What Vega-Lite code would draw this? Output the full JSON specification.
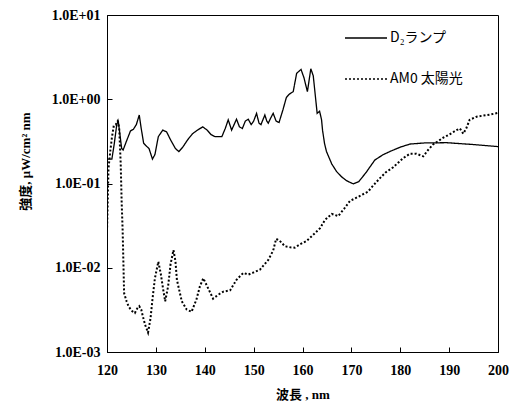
{
  "$schema": "https://vega.github.io/schema/vega-lite/v6.json",
  "width": 391,
  "height": 337,
  "autosize": {"type": "none"},
  "padding": {"left": 107, "top": 15, "right": 13, "bottom": 51},
  "background": "white",
  "config": {
    "view": {"stroke": "#000", "strokeWidth": 1},
    "axis": {"grid": false, "domainColor": "#000", "tickColor": "#000", "labelFont": "Liberation Serif", "labelFontWeight": "bold", "labelFontSize": 14, "labelColor": "#000", "labelFlush": false, "labelOverlap": false, "titleFont": "Liberation Serif, Noto Sans CJK JP", "titleFontWeight": "bold", "titleFontSize": 13, "titleColor": "#000"}
  },
  "datasets": {
    "d2": [
      {"nm":120.0,"v":0.195},{"nm":121.0,"v":0.195},{"nm":121.5,"v":0.30},{"nm":122.0,"v":0.50},{"nm":122.3,"v":0.557},{"nm":122.6,"v":0.40},{"nm":123.0,"v":0.26},{"nm":123.3,"v":0.25},{"nm":124.0,"v":0.32},{"nm":124.8,"v":0.42},{"nm":125.4,"v":0.44},{"nm":126.0,"v":0.50},{"nm":126.6,"v":0.65},{"nm":127.0,"v":0.45},{"nm":127.5,"v":0.30},{"nm":128.0,"v":0.28},{"nm":128.6,"v":0.26},{"nm":129.3,"v":0.195},{"nm":129.8,"v":0.22},{"nm":130.5,"v":0.36},{"nm":131.4,"v":0.43},{"nm":132.2,"v":0.41},{"nm":133.0,"v":0.33},{"nm":134.0,"v":0.26},{"nm":134.7,"v":0.239},{"nm":135.5,"v":0.27},{"nm":136.5,"v":0.33},{"nm":137.5,"v":0.39},{"nm":138.5,"v":0.43},{"nm":139.6,"v":0.47},{"nm":140.5,"v":0.43},{"nm":141.3,"v":0.38},{"nm":142.1,"v":0.36},{"nm":143.5,"v":0.36},{"nm":144.2,"v":0.45},{"nm":144.8,"v":0.57},{"nm":145.5,"v":0.43},{"nm":146.0,"v":0.50},{"nm":146.5,"v":0.58},{"nm":147.1,"v":0.47},{"nm":147.7,"v":0.45},{"nm":148.3,"v":0.55},{"nm":148.9,"v":0.58},{"nm":149.5,"v":0.50},{"nm":150.0,"v":0.55},{"nm":150.6,"v":0.68},{"nm":151.1,"v":0.52},{"nm":151.5,"v":0.50},{"nm":152.3,"v":0.65},{"nm":152.7,"v":0.55},{"nm":153.0,"v":0.52},{"nm":153.5,"v":0.60},{"nm":154.0,"v":0.68},{"nm":154.6,"v":0.55},{"nm":155.2,"v":0.53},{"nm":156.0,"v":0.75},{"nm":156.7,"v":1.05},{"nm":157.3,"v":1.15},{"nm":158.1,"v":1.23},{"nm":158.8,"v":2.03},{"nm":159.7,"v":2.26},{"nm":160.3,"v":1.8},{"nm":161.0,"v":1.23},{"nm":161.3,"v":1.6},{"nm":161.7,"v":2.3},{"nm":162.2,"v":1.9},{"nm":162.7,"v":1.0},{"nm":163.0,"v":0.68},{"nm":163.5,"v":0.72},{"nm":163.9,"v":0.57},{"nm":164.1,"v":0.43},{"nm":164.5,"v":0.30},{"nm":164.9,"v":0.24},{"nm":166.0,"v":0.17},{"nm":167.0,"v":0.138},{"nm":168.0,"v":0.12},{"nm":169.0,"v":0.108},{"nm":170.4,"v":0.099},{"nm":171.5,"v":0.105},{"nm":173.0,"v":0.135},{"nm":174.8,"v":0.19},{"nm":176.5,"v":0.22},{"nm":177.9,"v":0.24},{"nm":180.0,"v":0.27},{"nm":182.0,"v":0.294},{"nm":185.0,"v":0.303},{"nm":189.5,"v":0.305},{"nm":195.0,"v":0.29},{"nm":200.0,"v":0.274}
    ],
    "am0": [
      {"nm":120.0,"v":0.027},{"nm":120.3,"v":0.15},{"nm":120.7,"v":0.25},{"nm":121.0,"v":0.35},{"nm":121.4,"v":0.49},{"nm":121.8,"v":0.50},{"nm":122.2,"v":0.55},{"nm":122.5,"v":0.45},{"nm":122.8,"v":0.175},{"nm":123.0,"v":0.06},{"nm":123.2,"v":0.028},{"nm":123.5,"v":0.005},{"nm":124.0,"v":0.004},{"nm":124.4,"v":0.0035},{"nm":125.0,"v":0.0031},{"nm":125.7,"v":0.0029},{"nm":126.2,"v":0.0033},{"nm":126.6,"v":0.0035},{"nm":127.0,"v":0.0032},{"nm":127.3,"v":0.0027},{"nm":127.8,"v":0.0021},{"nm":128.4,"v":0.0017},{"nm":128.9,"v":0.0025},{"nm":129.3,"v":0.0042},{"nm":129.8,"v":0.0075},{"nm":130.5,"v":0.0118},{"nm":131.0,"v":0.0085},{"nm":131.5,"v":0.0055},{"nm":131.9,"v":0.004},{"nm":132.5,"v":0.006},{"nm":133.0,"v":0.011},{"nm":133.6,"v":0.0162},{"nm":134.0,"v":0.012},{"nm":134.3,"v":0.0072},{"nm":135.3,"v":0.004},{"nm":136.3,"v":0.0032},{"nm":137.3,"v":0.003},{"nm":138.3,"v":0.0042},{"nm":139.0,"v":0.006},{"nm":139.7,"v":0.0075},{"nm":140.7,"v":0.0057},{"nm":141.7,"v":0.0043},{"nm":142.8,"v":0.0048},{"nm":143.8,"v":0.0052},{"nm":145.2,"v":0.0054},{"nm":146.5,"v":0.0072},{"nm":147.9,"v":0.0087},{"nm":148.9,"v":0.0083},{"nm":150.0,"v":0.0088},{"nm":151.3,"v":0.0095},{"nm":153.0,"v":0.0124},{"nm":154.0,"v":0.016},{"nm":154.6,"v":0.022},{"nm":155.3,"v":0.021},{"nm":156.4,"v":0.018},{"nm":157.5,"v":0.0175},{"nm":158.4,"v":0.0173},{"nm":159.5,"v":0.019},{"nm":160.8,"v":0.0207},{"nm":162.0,"v":0.024},{"nm":163.6,"v":0.0295},{"nm":164.6,"v":0.037},{"nm":166.0,"v":0.0435},{"nm":167.3,"v":0.041},{"nm":168.5,"v":0.05},{"nm":169.7,"v":0.062},{"nm":171.5,"v":0.07},{"nm":173.4,"v":0.08},{"nm":174.5,"v":0.095},{"nm":175.8,"v":0.115},{"nm":177.0,"v":0.135},{"nm":178.5,"v":0.155},{"nm":179.5,"v":0.175},{"nm":180.6,"v":0.2},{"nm":182.0,"v":0.226},{"nm":183.3,"v":0.226},{"nm":184.7,"v":0.21},{"nm":185.7,"v":0.25},{"nm":186.7,"v":0.29},{"nm":188.8,"v":0.35},{"nm":190.0,"v":0.38},{"nm":191.5,"v":0.43},{"nm":192.2,"v":0.45},{"nm":192.9,"v":0.39},{"nm":193.5,"v":0.45},{"nm":194.2,"v":0.57},{"nm":195.6,"v":0.62},{"nm":197.0,"v":0.64},{"nm":198.5,"v":0.66},{"nm":200.0,"v":0.69}
    ]
  },
  "layer": [
    {
      "data": {"name": "d2"},
      "transform": [{"calculate": "'D₂ランプ'", "as": "series"}],
      "mark": {"type": "line", "color": "#000", "strokeWidth": 1.3, "clip": true},
      "encoding": {
        "x": {"field": "nm", "type": "quantitative", "scale": {"domain": [120, 200], "nice": false}, "axis": {"values": [120,130,140,150,160,170,180,190,200], "tickSize": -5, "labelPadding": 16, "title": "波長 , nm", "titleY": 42, "titleBaseline": "middle"}},
        "y": {"field": "v", "type": "quantitative", "scale": {"type": "log", "domain": [0.001, 10], "nice": false}, "axis": {"values": [0.001, 0.01, 0.1, 1, 10], "tickSize": -5, "labelPadding": 12, "labelExpr": "'1.0E' + (round(log(datum.value)/LN10) >= 0 ? '+' : '-') + '0' + abs(round(log(datum.value)/LN10))", "title": "強度, μW/cm² nm", "titleX": -82, "titleY": 146, "titleAngle": -90, "titleAlign": "center", "titleBaseline": "middle"}},
        "strokeDash": {"field": "series", "type": "nominal", "scale": {"domain": ["D₂ランプ", "AM0 太陽光"], "range": [[1, 0], [2, 2]]}, "legend": {"orient": "none", "direction": "vertical", "legendX": 237, "legendY": 1, "title": null, "symbolType": "stroke", "symbolSize": 1764, "symbolStrokeColor": "#000", "symbolStrokeWidth": 1.5, "labelFont": "Noto Sans CJK JP", "labelFontSize": 14, "labelColor": "#000", "labelOffset": 2, "rowPadding": 12, "padding": 0}}
      }
    },
    {
      "data": {"name": "am0"},
      "transform": [{"calculate": "'AM0 太陽光'", "as": "series"}],
      "mark": {"type": "line", "color": "#000", "strokeWidth": 2, "clip": true},
      "encoding": {
        "x": {"field": "nm", "type": "quantitative"},
        "y": {"field": "v", "type": "quantitative"},
        "strokeDash": {"field": "series", "type": "nominal"}
      }
    }
  ]
}
